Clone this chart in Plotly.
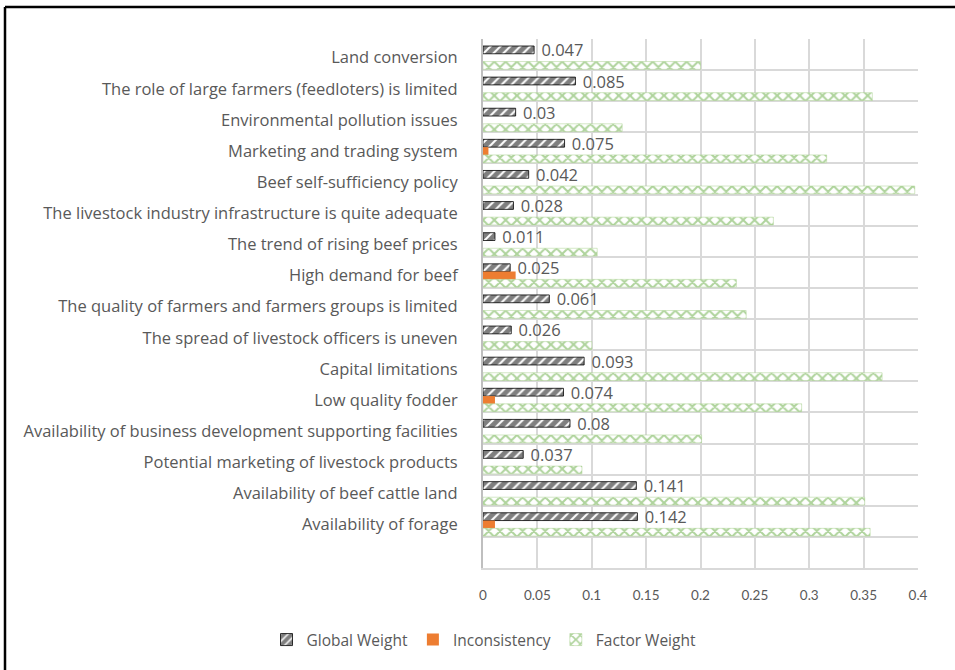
import plotly.graph_objects as go

# Factors (top to bottom) and their weights
factors = [
    "Land conversion",
    "The role of large farmers (feedloters) is limited",
    "Environmental pollution issues",
    "Marketing and trading system",
    "Beef self-sufficiency policy",
    "The livestock industry infrastructure is quite adequate",
    "The trend of rising beef prices",
    "High demand for beef",
    "The quality of farmers and farmers groups is limited",
    "The spread of livestock officers is uneven",
    "Capital limitations",
    "Low quality fodder",
    "Availability of business development supporting facilities",
    "Potential marketing of livestock products",
    "Availability of beef cattle land",
    "Availability of forage",
]
global_weight = [0.047, 0.085, 0.03, 0.075, 0.042, 0.028, 0.011, 0.025,
                 0.061, 0.026, 0.093, 0.074, 0.08, 0.037, 0.141, 0.142]
inconsistency = [0.0, 0.0, 0.0, 0.005, 0.0, 0.0, 0.0, 0.03,
                 0.0, 0.0, 0.0, 0.011, 0.0, 0.0, 0.0, 0.011]
factor_weight = [0.2, 0.358, 0.128, 0.316, 0.397, 0.267, 0.105, 0.233,
                 0.242, 0.1, 0.367, 0.293, 0.201, 0.091, 0.351, 0.356]
x_ticks = [0, 0.05, 0.1, 0.15, 0.2, 0.25, 0.3, 0.35, 0.4]

W, H = 955, 670
ML, MR, MT, MB = 483, 37, 39, 102
TXT = "#595959"
FONT = "Open Sans"
n = len(factors)
shift = 0.1  # bars and labels sit slightly below the row centres

fig = go.Figure()
fig.add_trace(go.Bar(
    name="Global Weight", y=factors, x=global_weight, orientation="h",
    marker=dict(color="#000000", line=dict(color="#000000", width=0.8),
                pattern=dict(shape="/", fgcolor="#000000", bgcolor="white",
                             size=7, solidity=0.72)),
    text=["\u00a0" + str(v) for v in global_weight],
    textposition="outside", cliponaxis=False, constraintext="none",
    textfont=dict(family=FONT, size=16.5, color=TXT),
))
fig.add_trace(go.Bar(
    name="Inconsistency", y=factors, x=inconsistency, orientation="h",
    marker=dict(color="#ed7d31", line=dict(width=0)),
))
fig.add_trace(go.Bar(
    name="Factor Weight", y=factors, x=factor_weight, orientation="h",
    marker=dict(color="white", line=dict(color="#a9d18e", width=0.5),
                pattern=dict(shape="x", fgcolor="#5fa83a", bgcolor="white",
                             size=8, solidity=0.45)),
))

# row separators on an overlaid numeric axis
fig.add_trace(go.Scatter(x=[None], y=[None], yaxis="y2", showlegend=False,
                         hoverinfo="skip"))

# chart border (top and left edges)
pw, ph = W - ML - MR, H - MT - MB
def px(x):
    return (x - ML) / pw
def py(y):
    return (H - MB - y) / ph
fig.add_shape(type="line", xref="paper", yref="paper",
              x0=px(5), x1=px(W), y0=py(7), y1=py(7),
              line=dict(color="black", width=2.5))
fig.add_shape(type="line", xref="paper", yref="paper",
              x0=px(5), x1=px(5), y0=py(7), y1=py(H),
              line=dict(color="black", width=2.5))

fig.update_layout(
    width=W, height=H,
    margin=dict(l=ML, r=MR, t=MT, b=MB, pad=0),
    paper_bgcolor="white", plot_bgcolor="white",
    barmode="group", bargap=0.25, bargroupgap=0,
    font=dict(family=FONT, size=14, color=TXT),
    showlegend=True,
    legend=dict(orientation="h", x=px(484), xanchor="center",
                y=py(640), yanchor="middle",
                font=dict(family=FONT, size=15.5, color=TXT),
                itemwidth=30),
    xaxis=dict(range=[0, 0.4], tickvals=x_ticks,
               ticktext=[str(t) for t in x_ticks],
               showgrid=True, gridcolor="#d9d9d9", gridwidth=1.5,
               zeroline=False, showline=True, linecolor="#d9d9d9",
               linewidth=1.5, ticks="", ticklabelstandoff=14,
               tickfont=dict(family="Lato", size=13.5, color=TXT)),
    yaxis=dict(categoryorder="array", categoryarray=factors,
               range=[n + 0.5 - shift, -0.5 - shift],
               showgrid=False, showline=True, linecolor="#bfbfbf",
               linewidth=2, ticks="", ticklabelstandoff=20,
               tickfont=dict(family=FONT, size=16.5, color=TXT)),
    yaxis2=dict(overlaying="y", range=[n + 0.5, -0.5],
                tickvals=[i - 0.5 for i in range(n + 1)],
                showticklabels=False, showgrid=True, gridcolor="#d9d9d9",
                gridwidth=1.5, zeroline=False, ticks=""),
)

fig.write_html("out.html")
